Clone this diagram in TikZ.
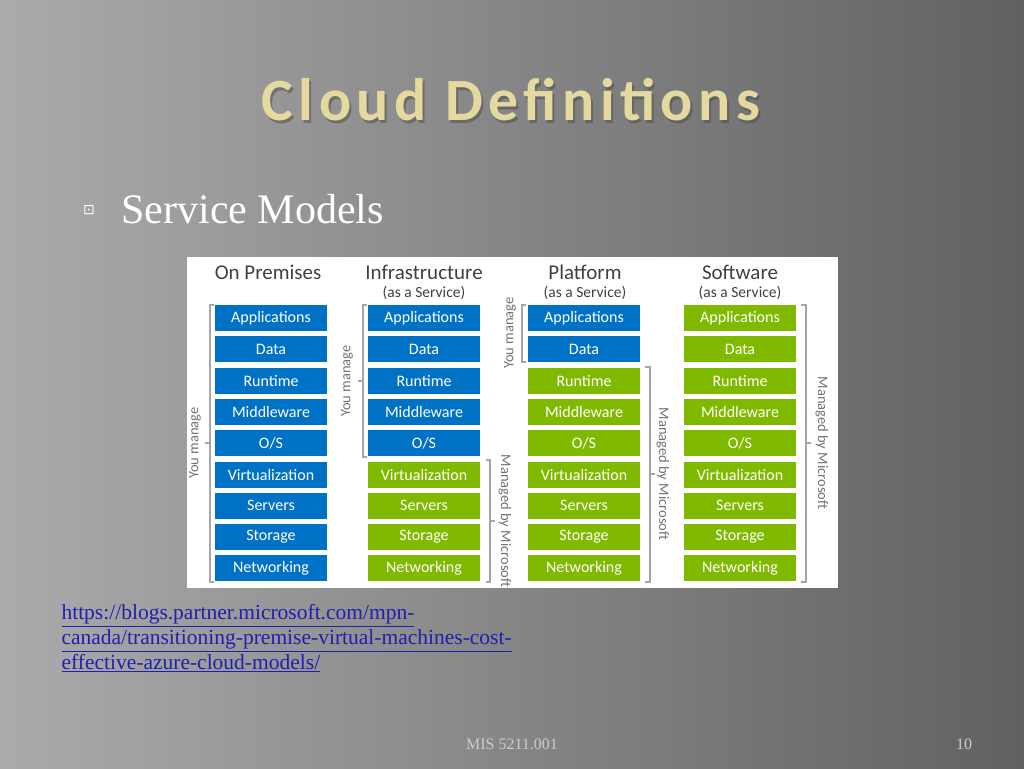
\documentclass[tikz,border=0pt]{standalone}
\usepackage{fontspec}
\setmainfont{Liberation Serif}
\newfontfamily\carlito{Carlito}
\newfontfamily\titlefont[LetterSpace=9]{Carlito}
\newfontfamily\dejavu{DejaVu Sans}
\usetikzlibrary{positioning}
\definecolor{msblue}{HTML}{0072C6}
\definecolor{msgreen}{HTML}{7FBA00}
\definecolor{gold}{HTML}{E6D9A0}
\definecolor{linkblue}{HTML}{1F1FB0}
\tikzset{
  layer/.style={minimum width=112pt, minimum height=26pt, inner sep=0pt,
    text=white, font=\carlito\fontsize{16}{16}\selectfont},
  bluelayer/.style={layer, fill=msblue},
  greenlayer/.style={layer, fill=msgreen},
  bracket/.style={draw=gray!70, line width=1.2pt},
  sidelabel/.style={font=\carlito\fontsize{14.5}{14.5}\selectfont, text=gray!90!black},
  colhead/.style={font=\carlito\fontsize{21}{21}\selectfont, text=black!75},
  subhead/.style={font=\carlito\fontsize{15.5}{15.5}\selectfont, text=black!75}
}
\begin{document}
\begin{tikzpicture}[x=1pt, y=-1pt]
    \useasboundingbox (0,0) rectangle (1024,768);
    \shade[shading angle=290, left color=black!33, right color=black!62] (0,0) rectangle (1024,768);

    % title and bullet
    \node[font=\titlefont\bfseries\fontsize{60}{60}\selectfont, text=black!70, opacity=0.5] at (513,103) {Cloud Definitions};
    \node[font=\titlefont\bfseries\fontsize{60}{60}\selectfont, text=gold] (title) at (511,100) {Cloud Definitions};
    \node[font=\dejavu\fontsize{14}{14}\selectfont, text=white] (bullet) at (89,210) {⊡};
    \node[anchor=west, font=\fontsize{42}{42}\selectfont, text=white] (service) at (118,209) {Service Models};

    % diagram panel
    \fill[white] (187,257) rectangle (838,588);

    \node[colhead] (h1) at (268,272) {On Premises};
    \node[colhead] (h2) at (424,272) {Infrastructure};
    \node[subhead] (s2) at (424,293) {(as a Service)};
    \node[colhead] (h3) at (585,272) {Platform};
    \node[subhead] (s3) at (585,293) {(as a Service)};
    \node[colhead] (h4) at (740,272) {Software};
    \node[subhead] (s4) at (740,293) {(as a Service)};

    \foreach \name [count=\i] in {Applications,Data,Runtime,Middleware,O/S,Virtualization,Servers,Storage,Networking} {
      \pgfmathsetmacro{\yy}{318+(\i-1)*31.3}
      \node[bluelayer] (a\i) at (271,\yy) {\name};
      \ifnum\i<6 \node[bluelayer] (b\i) at (424,\yy) {\name};
      \else \node[greenlayer] (b\i) at (424,\yy) {\name}; \fi
      \ifnum\i<3 \node[bluelayer] (c\i) at (584,\yy) {\name};
      \else \node[greenlayer] (c\i) at (584,\yy) {\name}; \fi
      \node[greenlayer] (d\i) at (740,\yy) {\name};
    }

    % brackets
    \draw[bracket] (214,305) -- (210,305) -- (210,582) -- (214,582);
    \draw[bracket] (210,443) -- (205,443);
    \node[sidelabel, rotate=90] (l1) at (195,443) {You manage};

    \draw[bracket] (367,305) -- (363,305) -- (363,457) -- (367,457);
    \draw[bracket] (363,381) -- (358,381);
    \node[sidelabel, rotate=90] (l2) at (347,381) {You manage};
    \draw[bracket] (486,460) -- (490,460) -- (490,582) -- (486,582);
    \draw[bracket] (490,521) -- (495,521);
    \node[sidelabel, rotate=-90] (r2) at (505,521) {Managed by Microsoft};

    \draw[bracket] (526,305) -- (522,305) -- (522,362) -- (526,362);
    \node[sidelabel, rotate=90] (l3) at (510,333) {You manage};
    \draw[bracket] (645,367) -- (650,367) -- (650,582) -- (645,582);
    \draw[bracket] (650,474) -- (655,474);
    \node[sidelabel, rotate=-90] (r3) at (663,474) {Managed by Microsoft};

    \draw[bracket] (801,305) -- (806,305) -- (806,582) -- (801,582);
    \draw[bracket] (806,443) -- (811,443);
    \node[sidelabel, rotate=-90] (r4) at (822,443) {Managed by Microsoft};

    % link and footer
    \node[anchor=north west, align=left, text=linkblue, font=\fontsize{21.5}{25}\selectfont] (link) at (58,601)
      {\underline{https://blogs.partner.microsoft.com/mpn-}\\\underline{canada/transitioning-premise-virtual-machines-cost-}\\\underline{effective-azure-cloud-models/}};
    \node[text=black!20, font=\fontsize{16}{16}\selectfont] (footer) at (512,744) {MIS 5211.001};
    \node[text=black!20, font=\fontsize{16}{16}\selectfont] (page) at (964,744) {10};
\end{tikzpicture}
\end{document}
